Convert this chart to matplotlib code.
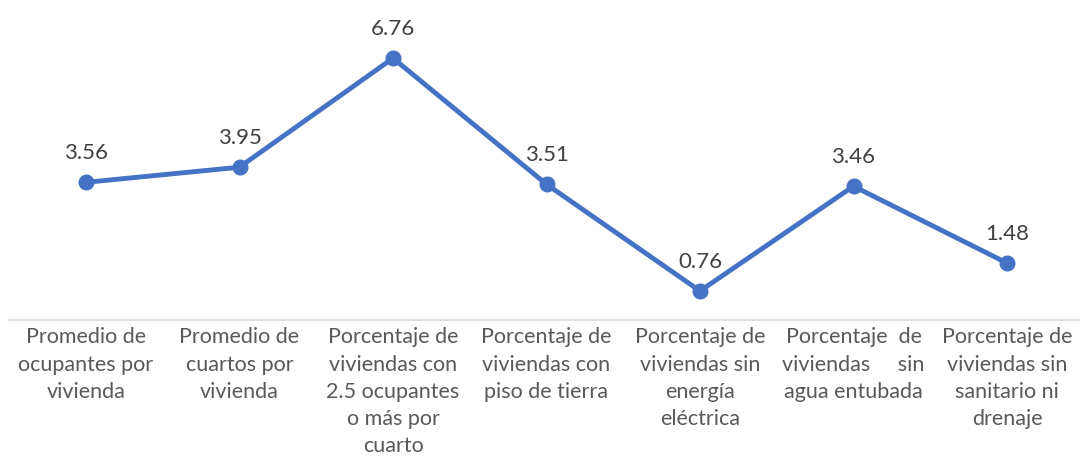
import matplotlib.pyplot as plt

plt.rcParams['font.family'] = ['Lato', 'DejaVu Sans']

categorias = [
    "Promedio de\nocupantes por\nvivienda",
    "Promedio de\ncuartos por\nvivienda",
    "Porcentaje de\nviviendas con\n2.5 ocupantes\no más por\ncuarto",
    "Porcentaje de\nviviendas con\npiso de tierra",
    "Porcentaje de\nviviendas sin\nenergía\neléctrica",
    "Porcentaje  de\nviviendas     sin\nagua entubada",
    "Porcentaje de\nviviendas sin\nsanitario ni\ndrenaje",
]
valores = [3.56, 3.95, 6.76, 3.51, 0.76, 3.46, 1.48]

fig = plt.figure(figsize=(10.8, 4.62), dpi=100)
ax = fig.add_axes([9.25 / 1080, 0.3063, 1074.5 / 1080, 0.672])

x = list(range(len(valores)))
ax.plot(x, valores, color='#4472C4', lw=3.5, marker='o', markersize=10.5,
        solid_capstyle='round')

for xi, v in zip(x, valores):
    ax.annotate(f"{v:.2f}", (xi, v), xytext=(0, 14), textcoords='offset points',
                ha='center', va='bottom', fontsize=16, color='#404040')

ax.set_xlim(-0.5, len(valores) - 0.5)
ax.set_ylim(0, 8)
ax.set_xticks(x)
ax.set_xticklabels(categorias, fontsize=15.5, color='#595959', linespacing=1.45)
ax.tick_params(axis='x', length=0, pad=5)
ax.set_yticks([])
for s in ['top', 'right', 'left']:
    ax.spines[s].set_visible(False)
ax.spines['bottom'].set_color('#D9D9D9')
ax.spines['bottom'].set_linewidth(1.2)

fig.savefig('out.png', dpi=100)
